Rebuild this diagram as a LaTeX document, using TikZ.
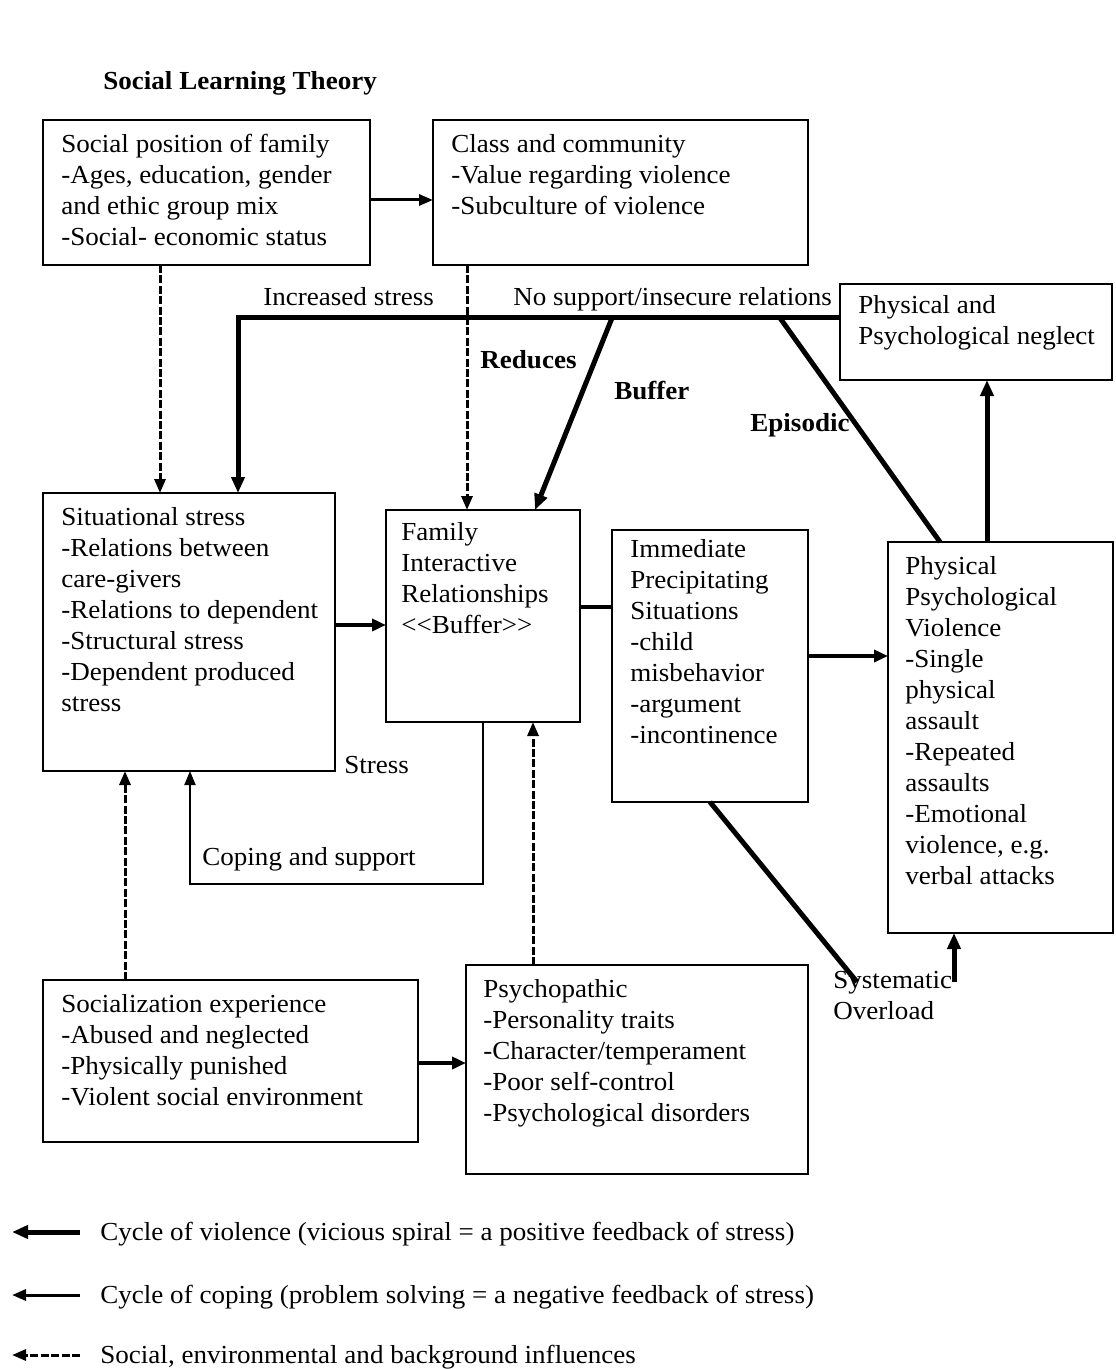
\documentclass[tikz,border=0pt]{standalone}
\usepackage{fontspec}
\setmainfont{Liberation Serif}[FakeStretch=1.04]
\usetikzlibrary{arrows.meta,calc}
\newcommand{\fnt}{\fontsize{13}{15.5}\selectfont}
\tikzset{
  box/.style={draw, line width=1pt, anchor=north west, inner sep=0pt, outer sep=0pt},
  txt/.style={anchor=north west, align=left, inner xsep=9pt, inner ysep=5pt, font=\fnt},
  lbl/.style={inner sep=0pt, anchor=base west, font=\fnt},
  blbl/.style={inner sep=0pt, anchor=base west, font=\fnt\bfseries},
  vio/.style={line width=2.5pt, -{Triangle[length=8pt,width=6.5pt]}},
  violine/.style={line width=2.5pt},
  medarr/.style={line width=2pt, -{Triangle[length=7pt,width=6pt]}},
  medline/.style={line width=2pt},
  thinarr/.style={line width=1.5pt, -{Triangle[length=7pt,width=5.5pt]}},
  coparr/.style={line width=1pt, -{Triangle[length=7pt,width=5.5pt]}},
  infl/.style={line width=1.5pt, dash pattern=on 4pt off 1.2pt, -{Triangle[length=7pt,width=5.5pt]}},
}
\begin{document}
\begin{tikzpicture}[x=0.5pt,y=-0.5pt]
\useasboundingbox (0,0) rectangle (1115,1369);
\fill[white] (0,0) rectangle (1115,1369);

\node[blbl] (title) at (103,90) {Social Learning Theory};

% boxes
\node[box, minimum width=163.5pt, minimum height=72.5pt,
  label={[txt]north west:{\strut Social position of family\\-Ages, education, gender\\and ethic group mix\\-Social- economic status}}] (sp) at (43,120) {};
\node[box, minimum width=187.5pt, minimum height=72.5pt,
  label={[txt]north west:{\strut Class and community\\-Value regarding violence\\-Subculture of violence}}] (cc) at (433,120) {};
\node[box, minimum width=136pt, minimum height=48pt,
  label={[txt, inner ysep=3.5pt]north west:{\strut Physical and\\Psychological neglect}}] (ng) at (840,284) {};
\node[box, minimum width=146pt, minimum height=139pt,
  label={[txt]north west:{\strut Situational stress\\-Relations between\\care-givers\\-Relations to dependent\\-Structural stress\\-Dependent produced\\stress}}] (ss) at (43,493) {};
\node[box, minimum width=97pt, minimum height=106pt,
  label={[txt, inner xsep=7.5pt, inner ysep=4pt]north west:{\strut Family\\Interactive\\Relationships\\\textless\kern0pt\textless\kern0pt Buffer\kern0pt\textgreater\kern0pt\textgreater}}] (fir) at (386,510) {};
\node[box, minimum width=98pt, minimum height=136pt,
  label={[txt, inner ysep=2.5pt]north west:{\strut Immediate\\Precipitating\\Situations\\-child\\misbehavior\\-argument\\-incontinence}}] (ips) at (612,530) {};
\node[box, minimum width=112.5pt, minimum height=195.5pt,
  label={[txt, inner xsep=8.5pt]north west:{\strut Physical\\Psychological\\Violence\\-Single\\physical\\assault\\-Repeated\\assaults\\-Emotional\\violence, e.g.\\verbal attacks}}] (ppv) at (888,542) {};
\node[box, minimum width=187.5pt, minimum height=81pt,
  label={[txt]north west:{\strut Socialization experience\\-Abused and neglected\\-Physically punished\\-Violent social environment}}] (se) at (43,980) {};
\node[box, minimum width=171pt, minimum height=104.5pt,
  label={[txt, inner xsep=8.5pt]north west:{\strut Psychopathic\\-Personality traits\\-Character/temperament\\-Poor self-control\\-Psychological disorders}}] (psy) at (466,965) {};

% labels
\node[lbl] (incs) at (263,306) {Increased stress};
\node[lbl] (nosup) at (513,306) {No support/insecure relations};
\node[blbl] (red) at (480,368) {Reduces};
\node[blbl] (buf) at (614,400) {Buffer};
\node[blbl] (epi) at (750,431) {Episodic};
\node[lbl] (str) at (344,773) {Stress};
\node[lbl] (cop) at (202,865) {Coping and support};
\node[lbl, align=left, anchor=north west] (sys) at (833,971) {Systematic\\Overload};

% connectors
\draw[thinarr] ($(sp.east)+(0,7.5)$) -- ($(cc.west)+(0,7.5)$);
\draw[infl] ($(sp.south west)+(117,0)$) -- ($(ss.north west)+(117,0)$);
\draw[infl] ($(cc.south west)+(34,0)$) -- ($(fir.north west)+(81,0)$);
\draw[vio] ($(ng.north west)+(0,34)$) -| ($(ss.north west)+(195,0)$);
\coordinate (b1) at (612,318);
\coordinate (e1) at (780,318);
\draw[vio] (b1) -- ($(fir.north west)+(149,0)$);
\draw[violine] (e1) -- ($(ppv.north west)+(52,0)$);
\draw[vio] ($(ppv.north west)+(99,0)$) -- ($(ng.south west)+(147,0)$);
\draw[medarr] ($(ss.north east)+(0,132)$) -- ($(fir.north west)+(0,115)$);
\draw[medline] ($(fir.north east)+(0,97)$) -- ($(ips.north west)+(0,77)$);
\draw[medarr] ($(ips.north east)+(0,126)$) -- ($(ppv.north west)+(0,114)$);
\draw[coparr] ($(fir.south west)+(97,0)$) -- ++(0,162) -| ($(ss.south west)+(147,0)$);
\coordinate (sysend) at (857,982);
\coordinate (sysup) at (954,982);
\draw[violine] ($(ips.south west)+(98,0)$) -- (sysend);
\draw[vio] (sysup) -- ($(ppv.south west)+(66,0)$);
\draw[infl] ($(se.north west)+(82,0)$) -- ($(ss.south west)+(82,0)$);
\draw[medarr] ($(se.north east)+(0,83)$) -- ($(psy.north west)+(0,98)$);
\draw[infl] ($(psy.north west)+(67,0)$) -- ($(fir.south west)+(147,0)$);

% legend
\coordinate (l1s) at (80,1232); \coordinate (l1e) at (12,1232);
\coordinate (l2s) at (80,1295); \coordinate (l2e) at (12,1295);
\coordinate (l3s) at (80,1355); \coordinate (l3e) at (12,1355);
\draw[vio] (l1s) -- (l1e);
\draw[thinarr] (l2s) -- (l2e);
\draw[infl] (l3s) -- (l3e);
\node[lbl] (lg1) at (100,1240) {Cycle of violence (vicious spiral = a positive feedback of stress)};
\node[lbl] (lg2) at (100,1303) {Cycle of coping (problem solving = a negative feedback of stress)};
\node[lbl] (lg3) at (100,1363) {Social, environmental and background influences};
\end{tikzpicture}
\end{document}
